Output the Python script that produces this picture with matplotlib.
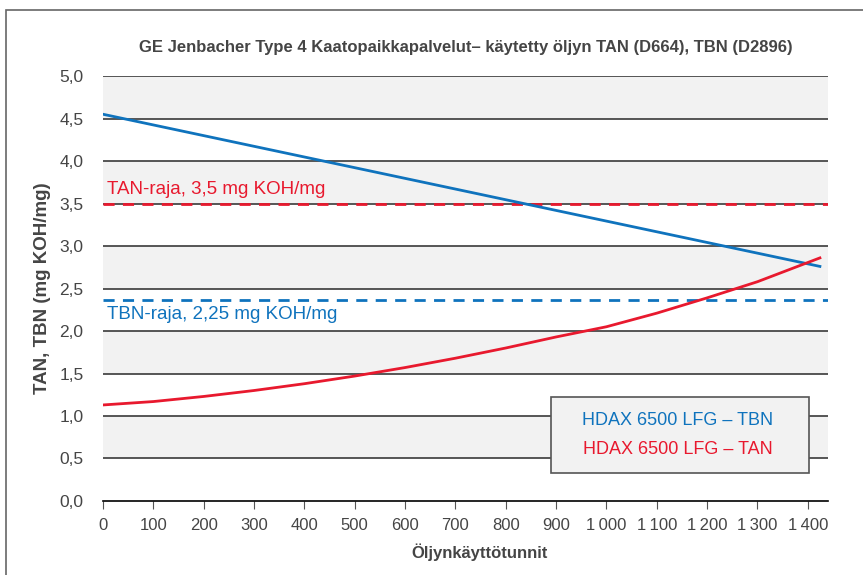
import matplotlib.pyplot as plt
from matplotlib.patches import Rectangle
from matplotlib.ticker import FuncFormatter, MultipleLocator
import numpy as np

# data
tbn_hours = [0, 1424]
tbn_values = [4.55, 2.76]
tan_hours = [0, 100, 200, 300, 400, 500, 600, 700, 800, 900, 1000, 1100, 1200, 1300, 1424]
tan_values = [1.13, 1.17, 1.23, 1.30, 1.38, 1.47, 1.57, 1.68, 1.80, 1.93, 2.05, 2.21, 2.39, 2.58, 2.86]
tan_limit = 3.5
tbn_limit = 2.36
tan_limit_label = 'TAN-raja, 3,5 mg KOH/mg'
tbn_limit_label = 'TBN-raja, 2,25 mg KOH/mg'
series_labels = ['HDAX 6500 LFG – TBN', 'HDAX 6500 LFG – TAN']
bands = [(0.5, 1.0), (1.5, 2.0), (2.5, 3.0), (3.5, 4.0), (4.5, 5.0)]

blue = '#0f73bd'
red = '#e8192e'
txt = '#454545'
plt.rcParams['font.family'] = ['Liberation Sans', 'DejaVu Sans']

fig = plt.figure(figsize=(8.63, 5.75), dpi=100)
ax = fig.add_axes([0.1194, 0.1287, 0.8400, 0.7391])

# outer frame of the figure
fig.patches.append(Rectangle((0.007, -0.1), 1.1, 1.0826, transform=fig.transFigure,
                             fill=False, edgecolor='#666666', linewidth=1.2))

for lo, hi in bands:
    ax.axhspan(lo, hi, color='#f2f2f2', zorder=0, linewidth=0)
for y in np.arange(0.5, 5.01, 0.5):
    ax.axhline(y, color='#3a3a3a', linewidth=1.2, zorder=1)

ax.axhline(tan_limit, color=red, linestyle=(0, (4, 3)), linewidth=2, zorder=2)
ax.axhline(tbn_limit, color=blue, linestyle=(0, (4, 3)), linewidth=2, zorder=2)
ax.text(8, 3.66, tan_limit_label, color=red, fontsize=13.5, va='center', ha='left')
ax.text(8, 2.19, tbn_limit_label, color=blue, fontsize=13.5, va='center', ha='left')

ax.plot(tbn_hours, tbn_values, color=blue, linewidth=2, zorder=3)
ax.plot(tan_hours, tan_values, color=red, linewidth=2, zorder=3)

ax.set_xlim(0, 1440)
ax.set_ylim(0, 5)
ax.xaxis.set_major_locator(MultipleLocator(100))
ax.yaxis.set_major_locator(MultipleLocator(0.5))
ax.xaxis.set_major_formatter(FuncFormatter(lambda v, p: f'{int(v):,}'.replace(',', '\u2009')))
ax.yaxis.set_major_formatter(FuncFormatter(lambda v, p: f'{v:.1f}'.replace('.', ',')))

for s in ['top', 'right', 'left']:
    ax.spines[s].set_visible(False)
ax.spines['bottom'].set_color('black')
ax.spines['bottom'].set_linewidth(1.2)
ax.tick_params(axis='y', length=0, pad=14, labelsize=12.5, labelcolor=txt)
ax.tick_params(axis='x', length=6, color='#555555', pad=6, labelsize=12, labelcolor=txt)

ax.set_title('GE Jenbacher Type 4 Kaatopaikkapalvelut– käytetty öljyn TAN (D664), TBN (D2896)',
             fontsize=12, fontweight='bold', color=txt, pad=17)
ax.set_xlabel('Öljynkäyttötunnit', fontsize=12, fontweight='bold', color=txt,
              labelpad=8, x=0.52)
ax.set_ylabel('TAN, TBN (mg KOH/mg)', fontsize=13.5, fontweight='bold', color=txt, labelpad=6)

# legend box
ax.add_patch(Rectangle((0.618, 0.066), 0.356, 0.179, transform=ax.transAxes,
                       facecolor='#f2f2f2', edgecolor='#555555', linewidth=1.2, zorder=4))
ax.text(0.793, 0.19, series_labels[0], color=blue, fontsize=13, ha='center', va='center',
        transform=ax.transAxes, zorder=5)
ax.text(0.793, 0.12, series_labels[1], color=red, fontsize=13, ha='center', va='center',
        transform=ax.transAxes, zorder=5)

fig.savefig('out.png', dpi=100)
